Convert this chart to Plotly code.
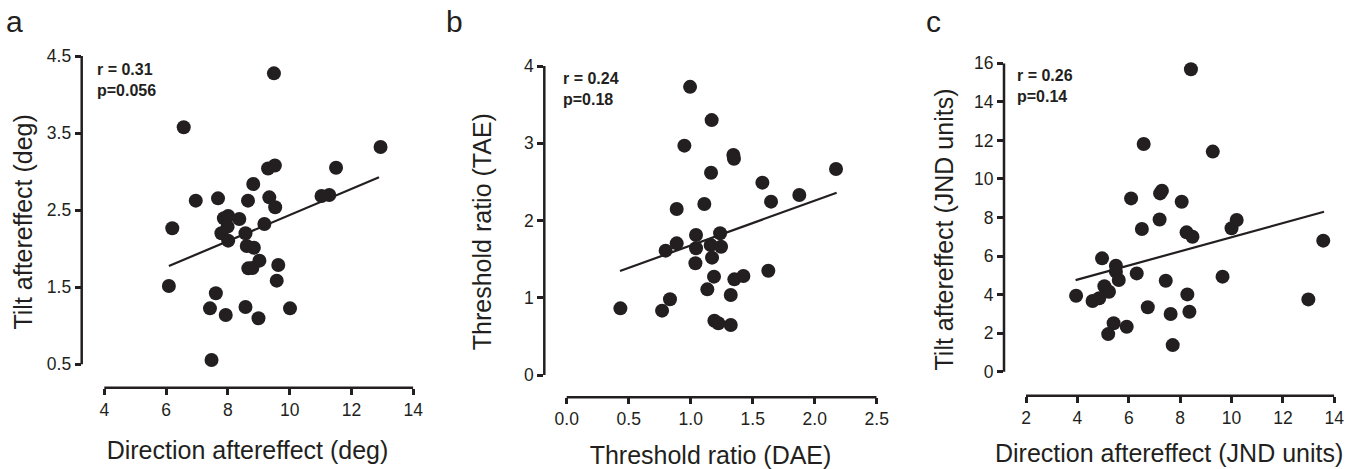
import plotly.graph_objects as go

W, H = 1368, 469
INK = "#231f20"
FONT = "Liberation Sans, Arial, Helvetica, sans-serif"

# ---------------- Panel a ----------------
a_x = [9.49, 6.57, 12.94, 11.50, 9.30, 9.52, 8.82, 6.96, 7.68, 8.65, 9.34, 9.53,
       11.03, 11.28, 6.20, 7.87, 8.01, 8.37, 7.99, 7.79, 8.57, 8.01, 9.18, 8.61,
       8.84, 9.02, 8.66, 8.79, 9.63, 9.58, 6.09, 7.61, 7.42, 7.93, 8.57, 8.99,
       10.01, 7.47]
a_y = [4.275, 3.575, 3.32, 3.05, 3.04, 3.08, 2.84, 2.623, 2.653, 2.623, 2.666, 2.537,
       2.684, 2.697, 2.266, 2.394, 2.424, 2.385, 2.286, 2.20, 2.20, 2.104, 2.32, 2.035,
       2.013, 1.845, 1.745, 1.75, 1.789, 1.585, 1.516, 1.421, 1.226, 1.14, 1.244, 1.097,
       1.226, 0.556]
a_fit_x = [6.09, 12.89]
a_fit_y = [1.775, 2.926]
a_xticks = [4, 6, 8, 10, 12, 14]
a_yticks = [0.5, 1.5, 2.5, 3.5, 4.5]

# ---------------- Panel b ----------------
b_x = [0.995, 1.169, 0.949, 1.344, 1.349, 1.164, 2.172, 1.578, 1.648, 1.876, 1.110,
       0.887, 1.043, 1.237, 0.887, 0.798, 1.043, 1.161, 1.245, 1.038, 1.172, 1.188,
       1.134, 1.352, 1.425, 1.626, 1.323, 0.833, 0.769, 0.433, 1.191, 1.223, 1.323]
b_y = [3.73, 3.30, 2.969, 2.848, 2.80, 2.619, 2.667, 2.49, 2.244, 2.33, 2.214,
       2.149, 1.812, 1.834, 1.704, 1.61, 1.64, 1.683, 1.661, 1.446, 1.519, 1.273,
       1.109, 1.238, 1.282, 1.35, 1.036, 0.98, 0.833, 0.863, 0.703, 0.669, 0.647]
b_fit_x = [0.43, 2.177]
b_fit_y = [1.346, 2.36]
b_xticks = [0.0, 0.5, 1.0, 1.5, 2.0, 2.5]
b_yticks = [0, 1, 2, 3, 4]

# ---------------- Panel c ----------------
c_x = [8.42, 6.58, 9.27, 7.29, 7.22, 6.09, 8.06, 7.20, 6.51, 8.25, 8.48, 10.00,
       10.20, 13.57, 4.96, 5.50, 5.50, 6.31, 5.61, 7.44, 9.65, 5.05, 5.23, 3.95,
       4.59, 4.85, 8.28, 12.99, 6.74, 7.63, 8.36, 5.41, 5.20, 5.92, 7.71]
c_y = [15.69, 11.81, 11.42, 9.39, 9.25, 8.99, 8.82, 7.90, 7.40, 7.23, 7.00, 7.44,
       7.87, 6.80, 5.88, 5.50, 5.19, 5.10, 4.76, 4.72, 4.93, 4.43, 4.15, 3.94,
       3.67, 3.81, 4.01, 3.75, 3.34, 2.99, 3.11, 2.51, 1.95, 2.33, 1.38]
c_fit_x = [3.93, 13.60]
c_fit_y = [4.75, 8.30]
c_xticks = [2, 4, 6, 8, 10, 12, 14]
c_yticks = [0, 2, 4, 6, 8, 10, 12, 14, 16]

# layout (pixels): data rectangle, x-axis line row, y-axis line column
panels = [
    dict(x=a_x, y=a_y, fx=a_fit_x, fy=a_fit_y, xt=a_xticks, yt=a_yticks,
         xr=[4, 14], yr=[0.5, 4.5], xfmt="", yfmt=".1f",
         xdom=(104.3, 413.3), ydom=(56, 364.3), xpos=387.7, ypos=81.7,
         xtitle="Direction aftereffect (deg)", ytitle="Tilt aftereffect (deg)",
         xso=22, yso=7,
         letter="a", lx=4, stats="r = 0.31<br>p=0.056", sx=95, sy=79.7),
    dict(x=b_x, y=b_y, fx=b_fit_x, fy=b_fit_y, xt=b_xticks, yt=b_yticks,
         xr=[0, 2.5], yr=[0, 4], xfmt=".1f", yfmt="",
         xdom=(566.7, 876.7), ydom=(66, 375), xpos=397.3, ypos=544.3,
         xtitle="Threshold ratio (DAE)", ytitle="Threshold ratio (TAE)",
         xso=18, yso=25,
         letter="b", lx=444, stats="r = 0.24<br>p=0.18", sx=561, sy=89),
    dict(x=c_x, y=c_y, fx=c_fit_x, fy=c_fit_y, xt=c_xticks, yt=c_yticks,
         xr=[2, 14], yr=[0, 16], xfmt="", yfmt="",
         xdom=(1026, 1334.3), ydom=(63.3, 371.7), xpos=395.7, ypos=1004,
         xtitle="Direction aftereffect (JND units)", ytitle="Tilt aftereffect (JND units)",
         xso=17, yso=13,
         letter="c", lx=924, stats="r = 0.26<br>p=0.14", sx=1015, sy=85.5),
]

fig = go.Figure()
layout = {}
annotations = []
shapes = []
for i, p in enumerate(panels):
    n = "" if i == 0 else str(i + 1)
    xa, ya = "x" + n, "y" + n
    fig.add_trace(go.Scatter(x=p["x"], y=p["y"], mode="markers",
                             marker=dict(size=14, color=INK, line=dict(width=0)),
                             xaxis=xa, yaxis=ya, cliponaxis=False, showlegend=False,
                             hoverinfo="skip"))
    fig.add_trace(go.Scatter(x=p["fx"], y=p["fy"], mode="lines",
                             line=dict(color=INK, width=2.2),
                             xaxis=xa, yaxis=ya, cliponaxis=False, showlegend=False,
                             hoverinfo="skip"))
    # plot area extends to the offset axis lines; ranges extended accordingly
    ppx = (p["xdom"][1] - p["xdom"][0]) / (p["xr"][1] - p["xr"][0])
    ppy = (p["ydom"][1] - p["ydom"][0]) / (p["yr"][1] - p["yr"][0])
    x_lo = p["xr"][0] - (p["xdom"][0] - p["ypos"]) / ppx
    y_lo = p["yr"][0] - (p["xpos"] - p["ydom"][1]) / ppy
    common = dict(showline=False, ticks="outside", ticklen=6, tickwidth=2.5,
                  tickcolor=INK, showgrid=False, zeroline=False,
                  tickfont=dict(family=FONT, size=17.5, color=INK),
                  automargin=False, fixedrange=True)
    layout["xaxis" + n] = dict(common, domain=[p["ypos"] / W, p["xdom"][1] / W],
                               range=[x_lo, p["xr"][1]], tickvals=p["xt"],
                               tickformat=p["xfmt"], anchor=ya,
                               title=dict(text=p["xtitle"], standoff=p["xso"],
                                          font=dict(family=FONT, size=25, color=INK)))
    layout["yaxis" + n] = dict(common, domain=[1 - p["xpos"] / H, 1 - p["ydom"][0] / H],
                               range=[y_lo, p["yr"][1]], tickvals=p["yt"],
                               tickformat=p["yfmt"], anchor=xa,
                               title=dict(text=p["ytitle"], standoff=p["yso"],
                                          font=dict(family=FONT, size=25, color=INK)))
    # Prism-style axis lines spanning only the tick range
    shapes.append(dict(type="line", xref=xa, yref=ya + " domain",
                       x0=p["xr"][0], x1=p["xr"][1], y0=0, y1=0,
                       line=dict(color=INK, width=2.5)))
    shapes.append(dict(type="line", xref=xa + " domain", yref=ya,
                       x0=0, x1=0, y0=p["yr"][0], y1=p["yr"][1],
                       line=dict(color=INK, width=2.5)))
    annotations.append(dict(text=p["letter"], xref="paper", yref="paper",
                            x=p["lx"] / W, y=1 - 22 / H, xanchor="left", yanchor="middle",
                            showarrow=False, font=dict(family=FONT, size=30, color=INK)))
    annotations.append(dict(text="<b>" + p["stats"] + "</b>", xref="paper", yref="paper",
                            x=p["sx"] / W, y=1 - p["sy"] / H, xanchor="left", yanchor="middle",
                            align="left", showarrow=False,
                            font=dict(family=FONT, size=16, color=INK)))

fig.update_layout(width=W, height=H, margin=dict(l=0, r=0, t=0, b=0),
                  paper_bgcolor="white", plot_bgcolor="white",
                  annotations=annotations, shapes=shapes, showlegend=False,
                  hovermode=False, **layout)
fig.write_html("out.html", config={"displayModeBar": False},
               post_script="document.body.style.margin='0';")
